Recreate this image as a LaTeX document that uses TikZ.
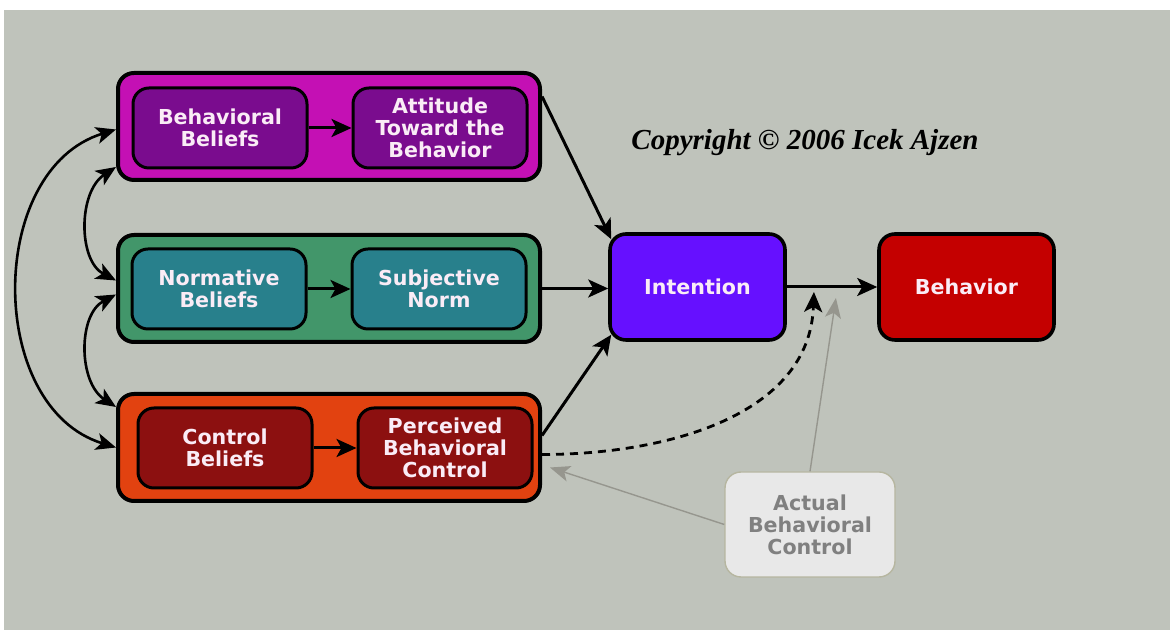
\documentclass[tikz,border=0pt]{standalone}
\usepackage{fontspec}
\setmainfont{DejaVu Sans}
\newfontfamily\copyfont{Liberation Serif}
\usetikzlibrary{positioning,calc,arrows.meta}

\definecolor{bgray}{RGB}{191,195,187}
\definecolor{magbox}{RGB}{196,16,180}
\definecolor{purpbox}{RGB}{122,12,142}
\definecolor{grnbox}{RGB}{66,150,106}
\definecolor{tealbox}{RGB}{40,128,140}
\definecolor{orgbox}{RGB}{226,66,16}
\definecolor{drbox}{RGB}{140,16,16}
\definecolor{intblue}{RGB}{102,16,255}
\definecolor{behred}{RGB}{196,0,0}
\definecolor{ltext}{RGB}{250,236,246}
\definecolor{ggray}{RGB}{150,150,142}
\definecolor{actline}{RGB}{182,182,160}

\tikzset{
  outer/.style={draw, rectangle, rounded corners=8pt, line width=2pt,
    minimum width=211pt, minimum height=53.5pt},
  inner/.style={draw, rectangle, rounded corners=8pt, line width=1.5pt,
    minimum width=87pt, minimum height=40pt, text=ltext, align=center,
    inner sep=2pt, font=\bfseries\fontsize{10.3}{11}\selectfont},
  big/.style={inner, line width=1.8pt, minimum width=87.5pt, minimum height=53pt},
  actbox/.style={draw=actline, fill=gray!18, rectangle, rounded corners=8pt,
    line width=0.7pt, minimum width=85pt, minimum height=52.5pt, text=gray,
    align=center, font=\bfseries\fontsize{10.3}{11}\selectfont},
  arr/.style={-{Stealth[length=10pt,width=9pt,inset=2.5pt]}, line width=1.5pt},
  dbl/.style={{Stealth[length=10pt,width=8.5pt,inset=2.5pt]}-{Stealth[length=10pt,width=8.5pt,inset=2.5pt]}, line width=1.3pt},
  garr/.style={-{Stealth[length=10pt,width=8pt,inset=2.5pt]}, line width=0.7pt, draw=ggray}
}

\begin{document}
\begin{tikzpicture}[x=0.5pt, y=0.5pt]
  \useasboundingbox (0,0) rectangle (1170,630);
  \fill[white] (0,0) rectangle (1170,630);
  \fill[bgray] (4,0) rectangle (1170,620);

  % belief groups
  \node (attbox) [outer, fill=magbox] at (329,503.5) {};
  \node (bbel) [inner, fill=purpbox] at (220,502) {Behavioral\\Beliefs};
  \node (att) [inner, fill=purpbox, right=21.5pt of bbel] {Attitude\\Toward the\\Behavior};

  \node (normbox) [outer, fill=grnbox] at (329,341.5) {};
  \node (nbel) [inner, fill=tealbox] at (219,341) {Normative\\Beliefs};
  \node (snorm) [inner, fill=tealbox, right=21.5pt of nbel] {Subjective\\Norm};

  \node (ctrlbox) [outer, fill=orgbox] at (329,182.5) {};
  \node (cbel) [inner, fill=drbox] at (225,182) {Control\\Beliefs};
  \node (pbc) [inner, fill=drbox, right=21.5pt of cbel] {Perceived\\Behavioral\\Control};

  % outcome
  \node (int) [big, fill=intblue] at (697.5,343) {Intention};
  \node (beh) [big, fill=behred] at (966.5,343) {Behavior};
  \node (abc) [actbox] at (810,105.5) {Actual\\Behavioral\\Control};

  \node (copy) at (805,487) {\copyfont\bfseries\itshape\fontsize{14.5}{16}\selectfont Copyright © 2006 Icek Ajzen};

  \draw[arr] (bbel) -- (att);
  \draw[arr] (nbel) -- (snorm);
  \draw[arr] (cbel) -- (pbc);

  \draw[arr] ($(attbox.east)+(0,30)$) -- ($(int.north west)+(3,-7)$);
  \draw[arr] (normbox.east) -- (normbox.east -| int.west);
  \draw[arr] ($(ctrlbox.east)+(0,12)$) -- ($(int.south west)+(3,7)$);
  \draw[arr] (int) -- (beh);

  \coordinate (dtip) at ($(int.east)!0.3!(beh.west)+(0,-5)$);
  \draw[arr, line width=1.4pt, dash pattern=on 4pt off 3pt] ($(ctrlbox.east)+(0,-7)$) to[out=0, in=-92] (dtip);
  \draw[garr] (abc.north) -- ($(dtip)+(22,-6)$);
  \draw[garr] (abc.west) -- ($(ctrlbox.east)+(8,-20)$);

  % correlations among beliefs
  \draw[dbl] ($(attbox.west)+(0,-3)$) .. controls +(-130,-40) and +(-130,40) .. (ctrlbox.west);
  \draw[dbl] ($(attbox.south west)+(0,15)$) .. controls +(-38,-25) and +(-38,20) .. ($(normbox.west)+(0,8)$);
  \draw[dbl] ($(normbox.west)+(0,-6)$) .. controls +(-38,-20) and +(-38,25) .. ($(ctrlbox.north west)+(0,-15)$);
\end{tikzpicture}
\end{document}
